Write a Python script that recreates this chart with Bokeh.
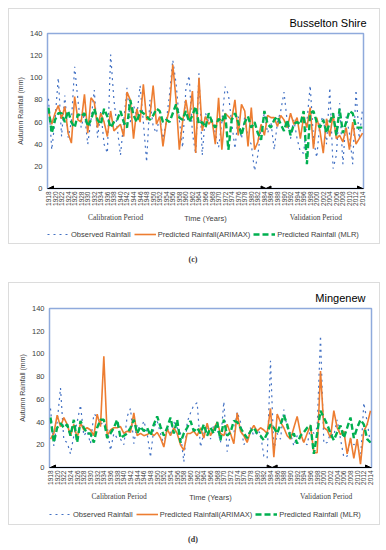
import math
from bokeh.plotting import figure
from bokeh.models import (Range1d, FixedTicker, Legend, LegendItem, Arrow, NormalHead,
                          Div, LinearAxis)
from bokeh.layouts import column
from bokeh.embed import file_html
from bokeh.resources import INLINE

years = list(range(1918, 2015))
tick_years = years[::2]
y_ticks = list(range(0, 141, 20))
calib_end = 1984
valid_start = 1985

# ---- Busselton Shire ----
busselton_observed = [
    81, 35, 62, 100, 47, 84, 46, 60, 110, 80,
    55, 68, 40, 62, 89, 46, 70, 40, 32, 121,
    80, 55, 30, 60, 91, 60, 75, 65, 93, 60,
    24, 80, 56, 50, 66, 45, 60, 85, 116, 95,
    62, 37, 90, 102, 50, 31, 104, 30, 68, 60,
    62, 50, 37, 60, 92, 85, 60, 36, 65, 45,
    65, 45, 40, 16, 30, 55, 68, 50, 60, 35,
    60, 70, 87, 60, 45, 62, 45, 33, 32, 60,
    93, 45, 28, 60, 65, 40, 91, 18, 30, 77,
    22, 65, 50, 22, 89, 45, 72]
busselton_arimax = [
    70, 58, 68, 75, 63, 74, 50, 41, 83, 62,
    60, 85, 50, 82, 78, 55, 68, 60, 47, 70,
    52, 55, 58, 47, 87, 80, 45, 72, 60, 94,
    62, 65, 93, 58, 65, 38, 60, 72, 112, 80,
    35, 60, 80, 62, 88, 32, 100, 52, 65, 58,
    62, 40, 82, 35, 68, 65, 62, 80, 48, 76,
    70, 38, 73, 35, 42, 58, 48, 66, 64, 64,
    56, 66, 62, 55, 68, 58, 64, 45, 65, 55,
    73, 36, 64, 52, 32, 63, 47, 67, 45, 48,
    42, 55, 35, 60, 40, 45, 50]
busselton_mlr = [
    73, 50, 62, 68, 68, 60, 70, 60, 55, 67,
    65, 68, 56, 62, 72, 62, 58, 72, 65, 55,
    60, 62, 70, 60, 55, 80, 66, 60, 70, 68,
    65, 62, 66, 72, 70, 60, 62, 60, 68, 76,
    64, 62, 70, 60, 66, 74, 58, 60, 55, 68,
    60, 55, 63, 60, 68, 35, 62, 68, 60, 48,
    60, 65, 55, 60, 50, 44, 70, 58, 55, 62,
    65, 58, 52, 62, 48, 58, 60, 58, 70, 22,
    68, 70, 60, 55, 62, 50, 60, 68, 48, 72,
    50, 60, 70, 68, 55, 55, 55]

# ---- Mingenew ----
mingenew_observed = [
    52, 19, 40, 70, 24, 22, 12, 28, 40, 55,
    28, 32, 21, 47, 45, 38, 40, 36, 15, 30,
    26, 25, 20, 45, 52, 21, 38, 32, 41, 30,
    9, 35, 41, 30, 20, 35, 30, 40, 35, 30,
    5, 40, 48, 55, 57, 18, 30, 35, 25, 38,
    35, 22, 58, 14, 30, 30, 49, 40, 20, 25,
    35, 28, 33, 30, 10, 8, 94, 15, 30, 25,
    51, 35, 30, 19, 28, 30, 22, 20, 35, 30,
    35, 116, 21, 22, 30, 28, 42, 25, 9, 10,
    25, 20, 22, 6, 57, 40, 21]
mingenew_arimax = [
    25, 30, 46, 36, 44, 38, 28, 38, 26, 39,
    33, 35, 33, 28, 47, 36, 98, 28, 33, 35,
    35, 36, 30, 32, 31, 48, 28, 30, 28, 29,
    31, 28, 31, 26, 18, 34, 28, 35, 30, 20,
    15, 30, 30, 32, 28, 35, 26, 39, 28, 34,
    40, 30, 28, 38, 30, 21, 48, 32, 28, 22,
    32, 37, 32, 35, 33, 30, 52, 9, 47, 40,
    35, 28, 25, 35, 45, 30, 22, 30, 37, 13,
    13, 85, 35, 33, 26, 50, 35, 29, 32, 12,
    26, 8, 25, 3, 32, 38, 50]
mingenew_mlr = [
    44, 22, 35, 39, 35, 38, 28, 42, 22, 41,
    35, 30, 30, 22, 35, 42, 42, 26, 30, 35,
    42, 26, 28, 30, 35, 42, 30, 36, 32, 35,
    28, 38, 45, 36, 28, 35, 44, 30, 42, 22,
    30, 35, 41, 32, 35, 30, 38, 28, 35, 30,
    40, 24, 42, 28, 31, 41, 40, 35, 30, 26,
    32, 35, 30, 28, 24, 30, 38, 35, 30, 38,
    46, 38, 26, 30, 21, 28, 31, 35, 37, 12,
    30, 50, 44, 38, 30, 24, 31, 37, 26, 35,
    44, 26, 35, 42, 38, 25, 22]

for arr in (busselton_observed, busselton_arimax, busselton_mlr,
            mingenew_observed, mingenew_arimax, mingenew_mlr):
    assert len(arr) == len(years), len(arr)

series_labels = ["Observed Rainfall", "Predicted Rainfall(ARIMAX)", "Predicted Rainfall (MLR)"]
series_styles = [dict(line_color="#4472C4", line_width=1.2, line_dash="dotted"),
                 dict(line_color="#ED7D31", line_width=1.6),
                 dict(line_color="#00B050", line_width=2.4, line_dash="6 3")]

SANS = "Liberation Sans"
SERIF = "Liberation Serif"
TXT = "#404040"
W = 370


def make_panel(title, series, H, left, right, top, bottom, title_offset,
               calib_x, valid_x):
    p = figure(width=W, height=H, output_backend="svg", toolbar_location=None,
               title=title,
               x_range=Range1d(years[0] - 0.3, years[-1] + 0.3),
               y_range=Range1d(0, 140),
               min_border_left=left, min_border_right=right,
               min_border_top=top, min_border_bottom=bottom)
    p.outline_line_color = "#8faadc"
    p.outline_line_width = 1.5
    p.xgrid.visible = False
    p.ygrid.visible = False

    for vals, st in zip(series, series_styles):
        p.line(years, vals, **st)

    p.title.align = "right"
    p.title.offset = title_offset
    p.title.text_font = SANS
    p.title.text_font_size = "11px"
    p.title.text_font_style = "normal"
    p.title.text_color = "black"
    p.title.standoff = 10

    xa = p.xaxis[0]
    xa.ticker = FixedTicker(ticks=tick_years)
    xa.major_label_orientation = math.pi / 2
    xa.major_label_text_font = SANS
    xa.major_label_text_font_size = "6.5px"
    xa.major_label_text_color = TXT
    xa.major_label_standoff = 3
    xa.major_tick_line_color = None
    xa.major_tick_out = 0
    xa.major_tick_in = 0
    xa.minor_tick_line_color = None
    xa.minor_tick_out = 0
    xa.axis_line_color = "black"
    xa.axis_line_width = 1

    # second bottom axis: period names, with the axis title lifted to the same row
    xb = LinearAxis(ticker=FixedTicker(ticks=[calib_x, valid_x]),
                    major_label_overrides={calib_x: "Calibration Period",
                                           valid_x: "Validation  Period"})
    xb.axis_line_color = None
    xb.major_tick_line_color = None
    xb.major_tick_out = 0
    xb.major_tick_in = 0
    xb.minor_tick_line_color = None
    xb.minor_tick_out = 0
    xb.major_label_text_font = SERIF
    xb.major_label_text_font_size = "7.5px"
    xb.major_label_text_color = TXT
    xb.major_label_standoff = 4
    xb.axis_label = "Time (Years)"
    xb.axis_label_text_font = SANS
    xb.axis_label_text_font_size = "7.5px"
    xb.axis_label_text_font_style = "normal"
    xb.axis_label_text_color = TXT
    xb.axis_label_standoff = -11
    p.add_layout(xb, "below")

    ya = p.yaxis[0]
    ya.ticker = FixedTicker(ticks=y_ticks)
    ya.axis_line_color = None
    ya.major_tick_line_color = None
    ya.major_tick_out = 0
    ya.major_tick_in = 0
    ya.minor_tick_line_color = None
    ya.minor_tick_out = 0
    ya.major_label_text_font = SANS
    ya.major_label_text_font_size = "7.5px"
    ya.major_label_text_color = TXT
    ya.major_label_standoff = 5
    ya.axis_label = "Autumn Rainfall (mm)"
    ya.axis_label_text_font = SANS
    ya.axis_label_text_font_size = "7px"
    ya.axis_label_text_font_style = "normal"
    ya.axis_label_text_color = TXT
    ya.axis_label_standoff = 3

    split = (calib_end + valid_start) / 2.0
    for xs, xe in [(years[0], split), (split, years[-1])]:
        p.add_layout(Arrow(start=NormalHead(size=5, fill_color="black", line_color="black"),
                           end=NormalHead(size=5, fill_color="black", line_color="black"),
                           x_start=xs, y_start=0, x_end=xe, y_end=0,
                           line_color="black", line_width=1))
    return p


def make_legend(H, ly):
    q = figure(width=W, height=H, output_backend="svg", toolbar_location=None,
               x_range=Range1d(0, 1), y_range=Range1d(0, 1), min_border=0,
               min_border_left=0, min_border_right=0, min_border_top=0, min_border_bottom=0,
               x_axis_location=None, y_axis_location=None)
    q.grid.visible = False
    q.outline_line_color = None
    items = []
    for lab, st in zip(series_labels, series_styles):
        # sample lines kept outside the visible range; only their legend glyphs show
        r = q.line(x=[-3, -2], y=[-3, -2], **st)
        items.append(LegendItem(label=lab, renderers=[r]))
    leg = Legend(items=items, orientation="horizontal", location=(0, ly),
                 label_text_font=SANS, label_text_font_size="7.5px",
                 label_text_color=TXT, glyph_width=22, glyph_height=10,
                 label_standoff=2, spacing=3, padding=0, margin=0,
                 border_line_color=None, background_fill_alpha=0)
    q.add_layout(leg)
    return q


p1 = make_panel("Busselton Shire", [busselton_observed, busselton_arimax, busselton_mlr],
                H=216, left=38, right=16, top=24, bottom=34, title_offset=-3,
                calib_x=1938.5, valid_x=2000.0)
l1 = make_legend(18, 4)
p2 = make_panel("Mingenew", [mingenew_observed, mingenew_arimax, mingenew_mlr],
                H=221, left=40, right=8, top=25, bottom=34, title_offset=6,
                calib_x=1938.6, valid_x=2001.0)
l2 = make_legend(20, 5)

border = {"border": "1px solid #dcdcdc"}
panel_c = column(p1, l1, spacing=0, styles=border)
panel_d = column(p2, l2, spacing=0, styles=border)

cap_style = {"font-family": SERIF, "font-size": "8px", "font-weight": "bold",
             "text-align": "center", "line-height": "10px", "color": "#333"}
cap_c = Div(text="(c)", width=W, height=10, margin=(11, 0, 17, 0), styles=cap_style)
cap_d = Div(text="(d)", width=W, height=10, margin=(10, 0, 0, 0), styles=cap_style)

layout = column(panel_c, cap_c, panel_d, cap_d, spacing=0, margin=(8, 8, 0, 8))

with open("out.html", "w") as f:
    f.write(file_html(layout, INLINE))
